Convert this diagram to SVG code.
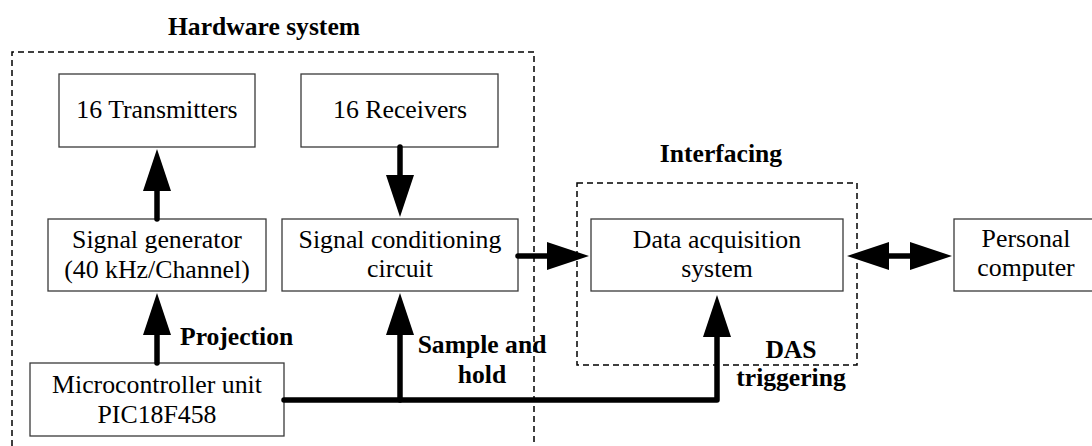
<svg xmlns="http://www.w3.org/2000/svg" width="1092" height="446" viewBox="0 0 1092 446">
  <style>
    .box { fill: #ffffff; stroke: #3a3a3a; stroke-width: 1.3; }
    .frame { fill: none; stroke: #000000; stroke-width: 1.5; stroke-dasharray: 6 4; }
    .node-text { font-family: "Liberation Serif", "DejaVu Serif", serif; font-size: 25.8px; fill: #000000; text-anchor: middle; }
    .label { font-family: "Liberation Serif", "DejaVu Serif", serif; font-size: 25.6px; font-weight: bold; fill: #000000; }
    .wire { fill: none; stroke: #000000; stroke-width: 5.5; stroke-linecap: round; stroke-linejoin: round; }
    .wire-end { fill: none; stroke: #000000; stroke-width: 5.5; stroke-linecap: butt; }
  </style>
  <defs>
    <marker id="head" markerUnits="userSpaceOnUse" markerWidth="44" markerHeight="30" refX="2" refY="14" orient="auto-start-reverse">
      <path d="M0,0 L42,14 L0,28 Z" fill="#000000"/>
    </marker>
  </defs>

  <rect width="1092" height="446" fill="#ffffff"/>

  <!-- subsystem frames -->
  <g id="hardware-frame">
    <path class="frame" d="M12,446 V52 H534 V446"/>
    <text class="label" x="264" y="35" text-anchor="middle">Hardware system</text>
  </g>
  <g id="interfacing-frame">
    <rect class="frame" x="577" y="183" width="280" height="182"/>
    <text class="label" x="721" y="162" text-anchor="middle">Interfacing</text>
  </g>

  <!-- nodes -->
  <g id="transmitters">
    <rect class="box" x="59" y="74" width="196" height="73"/>
    <text class="node-text" x="157" y="118">16 Transmitters</text>
  </g>
  <g id="receivers">
    <rect class="box" x="301" y="74" width="197" height="73"/>
    <text class="node-text" x="400" y="118">16 Receivers</text>
  </g>
  <g id="signal-generator">
    <rect class="box" x="48" y="219" width="218" height="72"/>
    <text class="node-text" x="157" y="248">Signal generator</text>
    <text class="node-text" x="157" y="278">(40 kHz/Channel)</text>
  </g>
  <g id="signal-conditioning">
    <rect class="box" x="282" y="219" width="236" height="72"/>
    <text class="node-text" x="400" y="248">Signal conditioning</text>
    <text class="node-text" x="400" y="277">circuit</text>
  </g>
  <g id="microcontroller">
    <rect class="box" x="30" y="363" width="254" height="73"/>
    <text class="node-text" x="157" y="393">Microcontroller unit</text>
    <text class="node-text" x="157" y="423">PIC18F458</text>
  </g>
  <g id="data-acquisition">
    <rect class="box" x="591" y="219" width="252" height="72"/>
    <text class="node-text" x="717" y="248">Data acquisition</text>
    <text class="node-text" x="717" y="277">system</text>
  </g>
  <g id="personal-computer">
    <rect class="box" x="954" y="219" width="150" height="72"/>
    <text class="node-text" x="1026" y="247">Personal</text>
    <text class="node-text" x="1026" y="276">computer</text>
  </g>

  <!-- connectors -->
  <g id="connectors">
    <!-- signal generator to transmitters -->
    <path class="wire" d="M157,219 V189" marker-end="url(#head)"/>
    <!-- receivers to signal conditioning -->
    <path class="wire" d="M400,147 V177" marker-end="url(#head)"/>
    <!-- projection: MCU to signal generator -->
    <path class="wire" d="M157,363 V333" marker-end="url(#head)"/>
    <!-- MCU control bus -->
    <path class="wire" d="M284,400 H717 V335" marker-end="url(#head)"/>
    <!-- sample and hold branch -->
    <path class="wire" d="M400,400 V333" marker-end="url(#head)"/>
    <!-- signal conditioning to DAS -->
    <path class="wire" d="M518,256 H549" marker-end="url(#head)"/>
    <!-- DAS to PC, bidirectional -->
    <path class="wire-end" d="M887,256 H912" marker-start="url(#head)" marker-end="url(#head)"/>

    <text class="label" x="180" y="345">Projection</text>
    <text class="label" x="482" y="353" text-anchor="middle">Sample and</text>
    <text class="label" x="482" y="383" text-anchor="middle">hold</text>
    <text class="label" x="791" y="358" text-anchor="middle">DAS</text>
    <text class="label" x="791" y="386" text-anchor="middle">triggering</text>
  </g>
</svg>
